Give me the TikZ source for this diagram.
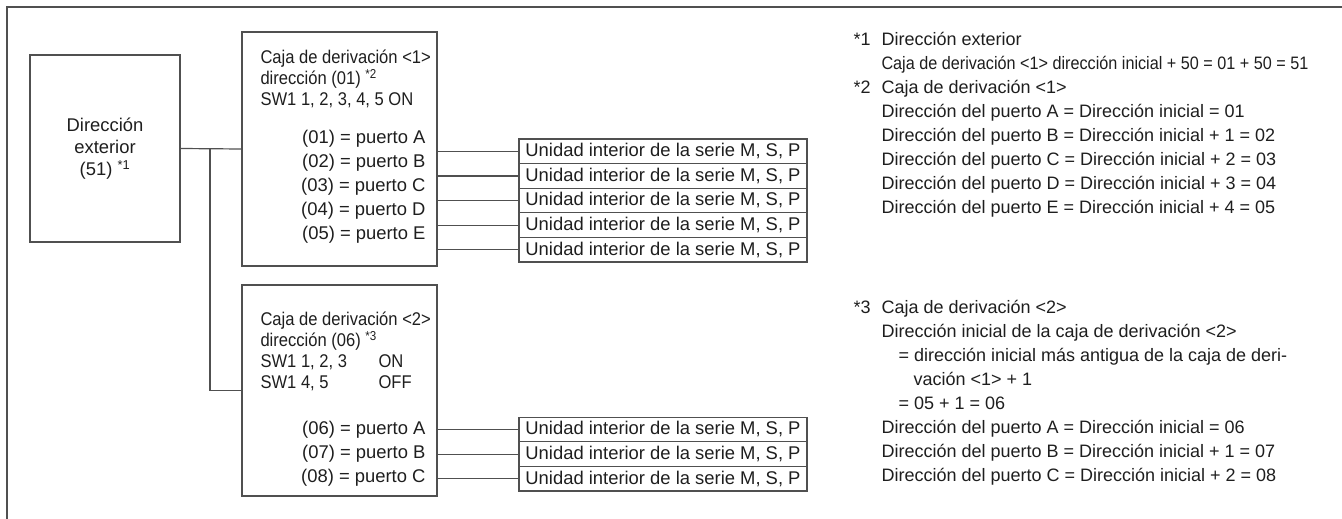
\documentclass[tikz,border=0pt]{standalone}
\usepackage{fontspec}
\setmainfont{Liberation Sans}
\newfontfamily\narrowsans[FakeStretch=0.9]{Liberation Sans}
\usetikzlibrary{positioning}
\definecolor{wiregray}{RGB}{80,80,80}
\definecolor{inkblack}{RGB}{30,30,30}
\newcommand{\notemark}[1]{\makebox[28pt][l]{#1}}

\begin{document}
\begin{tikzpicture}[
  x=1pt, y=-1pt,
  font=\fontsize{18.4}{22}\selectfont, text=inkblack,
  box/.style={draw=wiregray, line width=1.2pt, inner sep=0pt},
  unit/.style={draw=wiregray, line width=1.2pt, minimum width=288pt, minimum height=24.6pt, inner sep=0pt},
  head/.style={font=\narrowsans\fontsize{18.4}{21}\selectfont, align=left, anchor=west},
  ports/.style={font=\fontsize{18.4}{24}\selectfont, align=right, anchor=east},
  note/.style={font=\fontsize{18}{24}\selectfont, align=left, anchor=west},
  wire/.style={draw=wiregray, line width=1.2pt}
]
\useasboundingbox (0,0) rectangle (1342,519);
% outer frame (open at right and bottom)
\draw[wire] (7,519) -- (7,7) -- (1342,7);

% outdoor unit and branch boxes
\node[box, minimum width=150pt, minimum height=187pt, align=center] (ext) at (105,148.5)
  {Dirección\\exterior\\(51) \textsuperscript{*1}};
\node[box, minimum width=195pt, minimum height=234pt] (jb1) at (339.5,149) {};
\node[box, minimum width=195pt, minimum height=211pt] (jb2) at (339.5,390.5) {};

\node[head] (jb1head) at (257,79)
  {Caja de derivación <1>\\dirección (01) \textsuperscript{*2}\\SW1 1, 2, 3, 4, 5 ON};
\node[ports] (jb1ports) at (429,187)
  {(01) = puerto A\\(02) = puerto B\\(03) = puerto C\\(04) = puerto D\\(05) = puerto E};
\node[head] (jb2head) at (257,351.5)
  {Caja de derivación <2>\\dirección (06) \textsuperscript{*3}\\
   \makebox[118pt][l]{SW1 1, 2, 3}ON\\\makebox[118pt][l]{SW1 4, 5}OFF};
\node[ports] (jb2ports) at (429,454)
  {(06) = puerto A\\(07) = puerto B\\(08) = puerto C};

% indoor units
\foreach \i/\y in {1/151.3, 2/175.9, 3/200.5, 4/225.1, 5/249.7}
  \node[unit] (ua\i) at (663,\y) {Unidad interior de la serie M, S, P};
\foreach \i/\y in {1/429.5, 2/454.1, 3/478.7}
  \node[unit] (ub\i) at (663,\y) {Unidad interior de la serie M, S, P};

% wiring
\coordinate (bus) at (210,149);
\draw[wire] (ext.east) -- (jb1.west);
\draw[wire] (bus) |- (jb2.west);
\foreach \i in {1,...,5}
  \draw[wire] (ua\i.west -| jb1.east) -- (ua\i.west);
\foreach \i in {1,2,3}
  \draw[wire] (ub\i.west -| jb2.east) -- (ub\i.west);

% notes
\node[note] (note1) at (850,125)
  {\notemark{*1}Dirección exterior\\
   \notemark{}{\narrowsans Caja de derivación <1> dirección inicial + 50 = 01 + 50 = 51}\\
   \notemark{*2}Caja de derivación <1>\\
   \notemark{}Dirección del puerto A = Dirección inicial = 01\\
   \notemark{}Dirección del puerto B = Dirección inicial + 1 = 02\\
   \notemark{}Dirección del puerto C = Dirección inicial + 2 = 03\\
   \notemark{}Dirección del puerto D = Dirección inicial + 3 = 04\\
   \notemark{}Dirección del puerto E = Dirección inicial + 4 = 05};
\node[note] (note3) at (850,392.5)
  {\notemark{*3}Caja de derivación <2>\\
   \notemark{}Dirección inicial de la caja de derivación <2>\\
   \notemark{}\hspace*{17pt}= dirección inicial más antigua de la caja de deri-\\
   \notemark{}\hspace*{32pt}vación <1> + 1\\
   \notemark{}\hspace*{17pt}= 05 + 1 = 06\\
   \notemark{}Dirección del puerto A = Dirección inicial = 06\\
   \notemark{}Dirección del puerto B = Dirección inicial + 1 = 07\\
   \notemark{}Dirección del puerto C = Dirección inicial + 2 = 08};
\end{tikzpicture}
\end{document}
